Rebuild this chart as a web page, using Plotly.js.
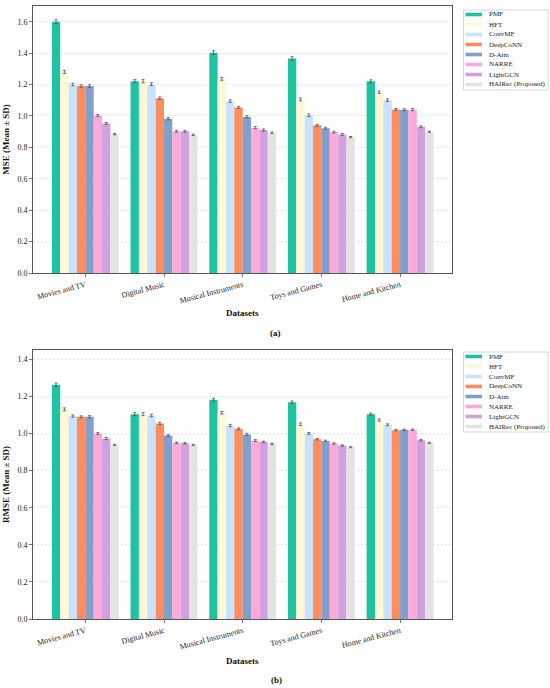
<!DOCTYPE html>
<html>
<head>
<meta charset="utf-8">
<script src="https://cdn.plot.ly/plotly-3.0.1.min.js"></script>
<style>html,body{margin:0;padding:0;background:#fff;}#chart{width:550px;height:688px;}</style>
</head>
<body>
<div id="chart"></div>
<script>
// ---------- data ----------
const categories = ['Movies and TV', 'Digital Music', 'Musical Instruments', 'Toys and Games', 'Home and Kitchen'];
const methods = ['PMF', 'HFT', 'ConvMF', 'DeepCoNN', 'D-Attn', 'NARRE', 'LightGCN', 'HAIRec (Proposed)'];

// MSE mean per method (order of categories)
const msePMF      = [1.600, 1.221, 1.403, 1.365, 1.221];
const mseHFT      = [1.280, 1.221, 1.236, 1.105, 1.151];
const mseConvMF   = [1.200, 1.202, 1.094, 1.005, 1.100];
const mseDeepCoNN = [1.191, 1.113, 1.054, 0.940, 1.041];
const mseDAttn    = [1.191, 0.982, 0.994, 0.922, 1.040];
const mseNARRE    = [1.003, 0.902, 0.925, 0.897, 1.040];
const mseLightGCN = [0.952, 0.902, 0.910, 0.882, 0.931];
const mseHAIRec   = [0.884, 0.880, 0.893, 0.865, 0.900];

// MSE SD
const mseSdPMF      = [0.012, 0.010, 0.012, 0.012, 0.009];
const mseSdHFT      = [0.010, 0.010, 0.009, 0.009, 0.008];
const mseSdConvMF   = [0.008, 0.009, 0.008, 0.008, 0.008];
const mseSdDeepCoNN = [0.008, 0.008, 0.007, 0.007, 0.006];
const mseSdDAttn    = [0.008, 0.007, 0.007, 0.006, 0.006];
const mseSdNARRE    = [0.006, 0.006, 0.007, 0.006, 0.007];
const mseSdLightGCN = [0.006, 0.006, 0.007, 0.006, 0.006];
const mseSdHAIRec   = [0.004, 0.005, 0.005, 0.004, 0.004];

// RMSE mean
const rmsePMF      = [1.263, 1.104, 1.182, 1.168, 1.104];
const rmseHFT      = [1.130, 1.104, 1.112, 1.050, 1.072];
const rmseConvMF   = [1.094, 1.097, 1.043, 1.000, 1.047];
const rmseDeepCoNN = [1.090, 1.054, 1.025, 0.969, 1.018];
const rmseDAttn    = [1.090, 0.989, 0.995, 0.960, 1.020];
const rmseNARRE    = [1.000, 0.950, 0.962, 0.946, 1.020];
const rmseLightGCN = [0.973, 0.947, 0.955, 0.935, 0.964];
const rmseHAIRec   = [0.939, 0.939, 0.944, 0.926, 0.950];

// RMSE SD
const rmseSdPMF      = [0.009, 0.008, 0.008, 0.007, 0.006];
const rmseSdHFT      = [0.008, 0.008, 0.007, 0.007, 0.006];
const rmseSdConvMF   = [0.006, 0.007, 0.006, 0.005, 0.005];
const rmseSdDeepCoNN = [0.005, 0.006, 0.005, 0.004, 0.004];
const rmseSdDAttn    = [0.006, 0.005, 0.006, 0.004, 0.004];
const rmseSdNARRE    = [0.005, 0.004, 0.005, 0.004, 0.004];
const rmseSdLightGCN = [0.006, 0.004, 0.004, 0.004, 0.004];
const rmseSdHAIRec   = [0.003, 0.003, 0.004, 0.003, 0.003];

const yTicksMSE  = [0, 0.2, 0.4, 0.6, 0.8, 1.0, 1.2, 1.4, 1.6];
const yTicksRMSE = [0, 0.2, 0.4, 0.6, 0.8, 1.0, 1.2, 1.4];

// ---------- styles ----------
const colors = ['#1DC49F', '#FFF7D6', '#C8E3FB', '#FF8C5C', '#809FCB', '#FFA8DA', '#D0A1DE', '#E3E3E3'];
const FONT = 'Liberation Serif, Times New Roman, serif';

const mseMeans = [msePMF, mseHFT, mseConvMF, mseDeepCoNN, mseDAttn, mseNARRE, mseLightGCN, mseHAIRec];
const mseSds = [mseSdPMF, mseSdHFT, mseSdConvMF, mseSdDeepCoNN, mseSdDAttn, mseSdNARRE, mseSdLightGCN, mseSdHAIRec];
const rmseMeans = [rmsePMF, rmseHFT, rmseConvMF, rmseDeepCoNN, rmseDAttn, rmseNARRE, rmseLightGCN, rmseHAIRec];
const rmseSds = [rmseSdPMF, rmseSdHFT, rmseSdConvMF, rmseSdDeepCoNN, rmseSdDAttn, rmseSdNARRE, rmseSdLightGCN, rmseSdHAIRec];

const xIdx = categories.map((c, i) => i);
const traces = [];
function addPanel(means, sds, xa, ya) {
  methods.forEach((m, k) => {
    traces.push({
      type: 'bar', name: m, x: xIdx, y: means[k],
      xaxis: xa, yaxis: ya,
      marker: {color: colors[k], line: {width: 0}},
      error_y: {type: 'data', array: sds[k], visible: true, color: '#555', thickness: 0.8, width: 1.6},
      showlegend: false, hoverinfo: 'skip'
    });
  });
}
addPanel(mseMeans, mseSds, 'x', 'y');
addPanel(rmseMeans, rmseSds, 'x2', 'y2');

// pixel geometry helpers (page px -> paper coords)
const ML = 33, MR = 98, MT = 6, MB = 69, W = 550, H = 688;
const PW = W - ML - MR, PH = H - MT - MB;
const px = v => (v - ML) / PW;
const py = v => (H - MB - v) / PH;

const shapes = [];
const annotations = [];
function addLegend(topPx) {
  shapes.push({type: 'rect', xref: 'paper', yref: 'paper', x0: px(463.5), x1: px(548), y0: py(topPx + 80), y1: py(topPx),
    line: {color: '#cccccc', width: 0.8}, fillcolor: 'white', layer: 'above'});
  methods.forEach((m, k) => {
    const yc = topPx + 4.5 + k * 10;
    shapes.push({type: 'rect', xref: 'paper', yref: 'paper', x0: px(465.5), x1: px(482), y0: py(yc + 1.8), y1: py(yc - 1.8),
      line: {width: 0}, fillcolor: colors[k], layer: 'above'});
    annotations.push({xref: 'paper', yref: 'paper', x: px(486.5), y: py(yc), text: m, showarrow: false,
      xanchor: 'left', yanchor: 'middle', font: {family: FONT, size: 7, color: '#222'}});
  });
}
addLegend(10);
addLegend(352);

function addText(txt, xPx, yPx, size) {
  annotations.push({xref: 'paper', yref: 'paper', x: px(xPx), y: py(yPx), text: txt, showarrow: false,
    xanchor: 'center', yanchor: 'middle', font: {family: FONT, size: size, color: '#111'}});
}
addText('<b>Datasets</b>', 242.5, 313, 9);
addText('<b>Datasets</b>', 242.5, 661, 9);
addText('<b>(a)</b>', 275, 333, 9);
addText('<b>(b)</b>', 276, 680, 9);

const xCommon = {
  range: [-0.665, 4.66], tickmode: 'array', tickvals: xIdx, ticktext: categories, tickangle: -15,
  ticks: 'outside', ticklen: 3, tickwidth: 0.8, tickcolor: '#555',
  showline: true, mirror: true, linecolor: '#555', linewidth: 1, showgrid: false, zeroline: false,
  automargin: false, tickfont: {family: FONT, size: 8, color: '#222'}
};
const yCommon = {
  tickmode: 'array', tickformat: '.1f',
  ticks: 'outside', ticklen: 3, tickwidth: 0.8, tickcolor: '#555',
  showline: true, mirror: true, linecolor: '#555', linewidth: 1,
  showgrid: true, gridcolor: '#cfcfcf', gridwidth: 0.6, griddash: '2px,2px', zeroline: false,
  automargin: false, tickfont: {family: FONT, size: 8, color: '#222'}
};

const layout = {
  width: W, height: H, margin: {l: ML, r: MR, t: MT, b: MB},
  paper_bgcolor: 'white', plot_bgcolor: 'white',
  barmode: 'group', bargap: 0.15, bargroupgap: 0,
  showlegend: false,
  font: {family: FONT, size: 8, color: '#222'},
  xaxis: Object.assign({}, xCommon, {anchor: 'y', domain: [0, 1]}),
  yaxis: Object.assign({}, yCommon, {anchor: 'x', domain: [py(273), 1], range: [0, 1.7], tickvals: yTicksMSE,
    title: {text: '<b>MSE (Mean ± SD)</b>', font: {family: FONT, size: 9, color: '#111'}, standoff: 6}}),
  xaxis2: Object.assign({}, xCommon, {anchor: 'y2', domain: [0, 1]}),
  yaxis2: Object.assign({}, yCommon, {anchor: 'x2', domain: [0, py(350)], range: [0, 1.45], tickvals: yTicksRMSE,
    title: {text: '<b>RMSE (Mean ± SD)</b>', font: {family: FONT, size: 9, color: '#111'}, standoff: 6}}),
  shapes: shapes,
  annotations: annotations
};

Plotly.newPlot('chart', traces, layout, {staticPlot: true, displayModeBar: false});
</script>
</body>
</html>
